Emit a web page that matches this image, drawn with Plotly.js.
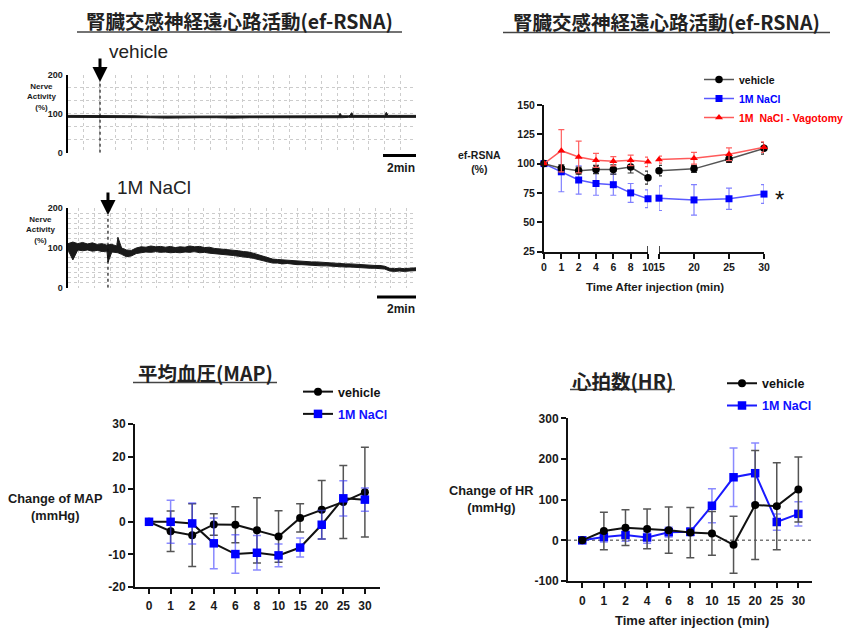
<!DOCTYPE html>
<html><head><meta charset="utf-8">
<script src="https://cdn.plot.ly/plotly-3.0.1.min.js"></script>
<style>html,body{margin:0;padding:0;background:#fff}#chart{width:857px;height:629px}</style>
</head><body><div id="chart"></div>
<script>
// ---------- raw nerve activity recordings (minutes, % of baseline) ----------
const vehTraceTime = [0,1,2,3,4,5,6,7,8,9,10,11,12,13,14,15,16,16.4,16.5,16.6,17,17.1,17.2,17.3,18,19,19.2,19.3,19.4,20,21.1];
const vehTraceHigh = [96,96,95,95,95,94,94,95,95,95,94,95,95,94,95,95,95,95,101,95,95,96,103,96,96,96,96,104,96,96,96];
const vehTraceLow  = [91,91,91,90,90,90,89,90,90,90,89,90,90,89,90,90,90,90,90,90,91,91,91,91,91,91,91,91,91,91,91];
const vehInjectTime = 1.94;

const naclTraceTime = [0,0.25,0.5,0.75,1,1.25,1.5,1.75,2,2.05,2.25,2.5,2.56,2.75,3,3.25,3.5,3.75,4,4.25,4.5,4.75,5,5.25,5.5,5.75,6,6.25,6.5,6.75,7,7.25,7.5,7.75,8,8.25,8.5,8.75,9,9.25,9.5,9.75,10,10.25,10.5,10.75,11,11.25,11.5,11.75,12,12.25,12.5,12.75,13,13.25,13.5,13.75,14,14.25,14.5,14.75,15,15.25,15.5,15.75,16,16.25,16.5,16.75,17,17.25,17.5,17.75,17.85];
const naclTraceHigh = [111,115,111,114,110,113,109,111,107,108,109,105,127,100,95,94,100,103,102,105,103,104,102,104,101,103,102,105,103,104,101,102,99,98,97,95,95,93,91,90,87,83,79,75,72,71,70,70,68,68,67,66,65,65,64,63,63,62,61,60,60,59,58,58,57,56,56,54,49,48,49,48,49,50,50];
const naclTraceLow  = [95,70,95,93,95,92,94,91,92,64,90,89,88,84,78,80,86,88,90,89,91,89,90,88,89,88,90,89,91,88,89,87,86,84,84,82,81,79,78,76,74,71,68,65,62,62,60,61,59,58,58,57,57,56,55,55,54,54,53,52,52,51,51,50,49,49,48,47,42,41,42,41,42,43,43];
const naclInjectTime = 2.05;

// ---------- ef-RSNA (%) ----------
const efTimeEarly = ['0','1','2','4','6','8','10'];
const efTimeLate = [15,20,25,30];
const efVehicle    = [100,96,94,95,95,97,88,94,95.5,104,113];
const efVehicleErr = [0,3,3,3.5,4,5,5.5,4.5,3,3,5];
const efNaCl       = [100,93,86,83,82,75,70,70.5,69,70,74];
const efNaClErr    = [0,17,12,10,9,8,7.5,10.5,13,9,8];
const efVago       = [100,111,105.6,102.8,102,102.8,101.5,103.4,104.5,108,114];
const efVagoErr    = [0,18,13.5,6,4,4.5,4,3,5,5.5,4.5];

// ---------- MAP change (mmHg) ----------
const timeCats = ['0','1','2','4','6','8','10','15','20','25','30'];
const mapVehicle    = [0,-2.9,-4.1,-0.8,-0.9,-2.6,-4.5,1.2,3.7,6.1,9.1];
const mapVehicleErr = [0,6.2,9.6,3.3,5.5,10,7.9,4.3,9,11.2,13.8];
const mapNaCl       = [0,0,-0.5,-6.6,-9.9,-9.5,-10.3,-7.9,-0.9,7.2,6.8];
const mapNaClErr    = [0,6.6,6.3,7.8,5.9,5.3,3.5,2.9,4.4,5.4,3.6];
const mapTickVals = [-20,-10,0,10,20,30];
const mapTickText = ['-20','-10','0','10','20','30'];

// ---------- HR change ----------
const hrVehicle    = [0,23,31,28,25,19,17,-11,87,84,125];
const hrVehicleErr = [0,46,44,49,57,62,54,70,134,107,80];
const hrNaCl       = [0,8,13,7,20,21,85,155,165,45,65];
const hrNaClErr    = [0,12,15,14,12,10,42,72,74,20,30];
const hrTickVals = [-100,0,100,200,300];
const hrTickText = ['-100','0','100','200','300'];

// ---------- layout helpers (pixel -> paper) ----------
const W = 857, H = 629;
const px = v => v / W;
const py = v => 1 - v / H;
const FONT = 'Liberation Sans, Arial, sans-serif';
const CJK = 'Noto Sans CJK JP, sans-serif';
const bold = (size, color) => ({family: FONT, size: size, color: color || '#1a1a1a', weight: 'bold'});

const traces = [];
// raw traces
traces.push({x: vehTraceTime, y: vehTraceLow, xaxis: 'x', yaxis: 'y', mode: 'lines', line: {color: '#1a1a1a', width: 1}, showlegend: false, hoverinfo: 'skip'});
traces.push({x: vehTraceTime, y: vehTraceHigh, xaxis: 'x', yaxis: 'y', mode: 'lines', fill: 'tonexty', fillcolor: '#1a1a1a', line: {color: '#1a1a1a', width: 1}, showlegend: false, hoverinfo: 'skip'});
traces.push({x: naclTraceTime, y: naclTraceLow, xaxis: 'x2', yaxis: 'y2', mode: 'lines', line: {color: '#1a1a1a', width: 1}, showlegend: false, hoverinfo: 'skip'});
traces.push({x: naclTraceTime, y: naclTraceHigh, xaxis: 'x2', yaxis: 'y2', mode: 'lines', fill: 'tonexty', fillcolor: '#1a1a1a', line: {color: '#1a1a1a', width: 1}, showlegend: false, hoverinfo: 'skip'});

// ef-RSNA series (broken axis: early categories on x3, late minutes on x4)
function efSeries(name, vals, errs, lineColor, markColor, sym, size, errColor, rank) {
  const common = {mode: 'lines+markers', yaxis: 'y3', cliponaxis: false, legend: 'legend', legendgroup: name,
    line: {color: lineColor, width: 1.5}, marker: {color: markColor, symbol: sym, size: size}};
  traces.push(Object.assign({}, common, {x: efTimeEarly, y: vals.slice(0, 7), xaxis: 'x3', name: name, legendrank: rank,
    error_y: {type: 'data', array: errs.slice(0, 7), color: errColor, thickness: 1.2, width: 3}}));
  traces.push(Object.assign({}, common, {x: efTimeLate, y: vals.slice(7), xaxis: 'x4', showlegend: false,
    error_y: {type: 'data', array: errs.slice(7), color: errColor, thickness: 1.2, width: 3}}));
}
efSeries('<span style="color:#0000ff">1M NaCl</span>', efNaCl, efNaClErr, '#5a5aff', '#0000ff', 'square', 7, '#8080ff', 2);
efSeries('vehicle', efVehicle, efVehicleErr, '#555555', '#000000', 'circle', 7.5, '#333333', 1);
efSeries('<span style="color:#ff0000">1M&#160;&#160;NaCl - Vagotomy</span>', efVago, efVagoErr, '#ff5a5a', '#ff0000', 'triangle-up', 7, '#ff6060', 3);

// MAP
traces.push({x: timeCats, y: mapVehicle, xaxis: 'x5', yaxis: 'y5', mode: 'lines+markers', name: 'vehicle', legend: 'legend2', legendgroup: 'mv', legendrank: 1, cliponaxis: false,
  line: {color: '#111', width: 2}, marker: {color: '#000', symbol: 'circle', size: 8},
  error_y: {type: 'data', array: mapVehicleErr, color: '#555', thickness: 1.5, width: 4}});
traces.push({x: timeCats, y: mapNaCl, xaxis: 'x5', yaxis: 'y5', mode: 'lines+markers', name: '<span style="color:#1010ff">1M NaCl</span>', legend: 'legend2', legendgroup: 'mn', legendrank: 2, cliponaxis: false,
  line: {color: '#111', width: 2}, marker: {color: '#0000ff', symbol: 'square', size: 8.5},
  error_y: {type: 'data', array: mapNaClErr, color: 'rgba(60,60,255,0.6)', thickness: 1.5, width: 4}});

// HR
traces.push({x: timeCats, y: hrNaCl, xaxis: 'x6', yaxis: 'y6', mode: 'lines+markers', name: '<span style="color:#1010ff">1M NaCl</span>', legend: 'legend3', legendgroup: 'hn', legendrank: 2, cliponaxis: false,
  line: {color: '#1a1aff', width: 2}, marker: {color: '#0000ff', symbol: 'square', size: 8.5},
  error_y: {type: 'data', array: hrNaClErr, color: 'rgba(60,60,255,0.6)', thickness: 1.5, width: 4}});
traces.push({x: timeCats, y: hrVehicle, xaxis: 'x6', yaxis: 'y6', mode: 'lines+markers', name: 'vehicle', legend: 'legend3', legendgroup: 'hv', legendrank: 1, cliponaxis: false,
  line: {color: '#111', width: 2}, marker: {color: '#000', symbol: 'circle', size: 8},
  error_y: {type: 'data', array: hrVehicleErr, color: '#555', thickness: 1.5, width: 4}});

const gridStyle = {showgrid: true, gridcolor: '#cccccc', griddash: 'dot', gridwidth: 1};
const axLine = {showline: true, linecolor: '#111', linewidth: 2, zeroline: false, showgrid: false,
  ticks: 'outside', ticklen: 5, tickwidth: 2, tickcolor: '#111'};

const layout = {
  width: W, height: H, margin: {l: 0, r: 0, t: 0, b: 0}, paper_bgcolor: '#fff', plot_bgcolor: 'rgba(0,0,0,0)',
  font: {family: FONT, color: '#1a1a1a'},
  showlegend: true,
  // raw trace 1
  xaxis: Object.assign({domain: [px(68), px(416)], range: [0, 21.1], anchor: 'y', showticklabels: false, ticks: '', zeroline: false, showline: false, dtick: 0.96, tick0: 0}, gridStyle),
  yaxis: Object.assign({domain: [py(152.7), py(75)], range: [0, 200], anchor: 'x', showline: true, linecolor: '#000', linewidth: 2.5, zeroline: false,
    tickmode: 'array', tickvals: [0, 100, 200], ticks: '', tickfont: bold(9), ticklabelstandoff: 1,
    minor: {dtick: 200 / 6, tick0: 0, showgrid: true, gridcolor: '#cccccc', griddash: 'dot', ticks: ''}}, gridStyle),
  // raw trace 2
  xaxis2: Object.assign({domain: [px(68), px(416)], range: [0, 17.85], anchor: 'y2', showticklabels: false, ticks: '', zeroline: false, showline: false, dtick: 0.8, tick0: 0.56}, gridStyle),
  yaxis2: Object.assign({domain: [py(287.7), py(208.3)], range: [0, 200], anchor: 'x2', showline: true, linecolor: '#000', linewidth: 2.5, zeroline: false,
    tickmode: 'array', tickvals: [0, 100, 200], ticks: '', tickfont: bold(9), ticklabelstandoff: 1,
    minor: {dtick: 12.5, tick0: 0, showgrid: true, gridcolor: '#cccccc', griddash: 'dot', ticks: ''}}, gridStyle),
  // ef-RSNA
  xaxis3: Object.assign({}, axLine, {domain: [px(544), px(648)], type: 'category', range: [0, 6], anchor: 'y3', tickfont: bold(10.5)}),
  xaxis4: Object.assign({}, axLine, {domain: [px(659), px(764)], range: [15, 30], anchor: 'y3', tickvals: efTimeLate, tickfont: bold(10.5)}),
  yaxis3: Object.assign({}, axLine, {domain: [py(251.5), py(105)], range: [25, 150], anchor: 'x3', dtick: 25, tickfont: bold(10.5)}),
  // MAP
  xaxis5: Object.assign({}, axLine, {domain: [px(135), px(380)], type: 'category', range: [-0.65, 10.7], anchor: 'y5', tickfont: bold(12), ticklabelstandoff: 2}),
  yaxis5: Object.assign({}, axLine, {domain: [py(587), py(424)], range: [-20, 30], anchor: 'x5', tickvals: mapTickVals, ticktext: mapTickText, tickfont: bold(12)}),
  // HR
  xaxis6: Object.assign({}, axLine, {domain: [px(568), px(812)], type: 'category', range: [-0.66, 10.63], anchor: 'y6', tickfont: bold(12), ticklabelstandoff: 3}),
  yaxis6: Object.assign({}, axLine, {domain: [py(581), py(418.3)], range: [-100, 300], anchor: 'x6', tickvals: hrTickVals, ticktext: hrTickText, tickfont: bold(12)}),
  legend: {x: px(699), y: py(65), xanchor: 'left', yanchor: 'top', bgcolor: 'rgba(0,0,0,0)', font: bold(10.5, '#111'), traceorder: 'normal', tracegroupgap: 0},
  legend2: {x: px(298), y: py(377), xanchor: 'left', yanchor: 'top', bgcolor: 'rgba(0,0,0,0)', font: bold(12.5, '#111'), tracegroupgap: 3},
  legend3: {x: px(722), y: py(368.5), xanchor: 'left', yanchor: 'top', bgcolor: 'rgba(0,0,0,0)', font: bold(12.5, '#111'), tracegroupgap: 3},
  shapes: [
    // injection markers
    {type: 'line', xref: 'x', yref: 'y', x0: vehInjectTime, x1: vehInjectTime, y0: 0, y1: 182, line: {color: '#111', width: 1.2, dash: 'dot'}},
    {type: 'line', xref: 'x2', yref: 'y2', x0: naclInjectTime, x1: naclInjectTime, y0: 0, y1: 183, line: {color: '#111', width: 1.2, dash: 'dot'}},
    // 2-min scale bars
    {type: 'line', xref: 'x', yref: 'paper', x0: 21.1 - 2, x1: 21.1, y0: py(155.5), y1: py(155.5), line: {color: '#000', width: 3}},
    {type: 'line', xref: 'x2', yref: 'paper', x0: 17.85 - 2, x1: 17.85, y0: py(297), y1: py(297), line: {color: '#000', width: 3}},
    // axis break caps
    {type: 'line', xref: 'x3', yref: 'paper', x0: 6, x1: 6, y0: py(246), y1: py(257), line: {color: '#111', width: 1.5}},
    {type: 'line', xref: 'x4', yref: 'paper', x0: 15, x1: 15, y0: py(246), y1: py(257), line: {color: '#111', width: 1.5}},
    // HR zero reference
    {type: 'line', xref: 'x6 domain', yref: 'y6', x0: 0, x1: 1, y0: 0, y1: 0, layer: 'below', line: {color: '#777', width: 1.5, dash: 'dot'}},
    // title underlines
    {type: 'line', xref: 'paper', yref: 'paper', x0: px(77), x1: px(402), y0: py(32), y1: py(32), line: {color: '#444', width: 1.5}},
    {type: 'line', xref: 'paper', yref: 'paper', x0: px(503), x1: px(830), y0: py(32.5), y1: py(32.5), line: {color: '#444', width: 1.5}},
    {type: 'line', xref: 'paper', yref: 'paper', x0: px(133), x1: px(277), y0: py(382.5), y1: py(382.5), line: {color: '#444', width: 1.5}},
    {type: 'line', xref: 'paper', yref: 'paper', x0: px(570), x1: px(675), y0: py(389.5), y1: py(389.5), line: {color: '#444', width: 1.5}}
  ],
  annotations: [
    {text: '腎臓交感神経遠心路活動(ef-RSNA)', xref: 'paper', yref: 'paper', x: px(239.5), y: py(21), xanchor: 'center', yanchor: 'middle', showarrow: false, font: {family: CJK, size: 19.5, weight: 'bold', color: '#222'}},
    {text: '腎臓交感神経遠心路活動(ef-RSNA)', xref: 'paper', yref: 'paper', x: px(666.5), y: py(21.5), xanchor: 'center', yanchor: 'middle', showarrow: false, font: {family: CJK, size: 19.5, weight: 'bold', color: '#222'}},
    {text: '平均血圧(MAP)', xref: 'paper', yref: 'paper', x: px(205), y: py(372.5), xanchor: 'center', yanchor: 'middle', showarrow: false, font: {family: CJK, size: 19.5, weight: 'bold', color: '#222'}},
    {text: '心拍数(HR)', xref: 'paper', yref: 'paper', x: px(622.5), y: py(380.5), xanchor: 'center', yanchor: 'middle', showarrow: false, font: {family: CJK, size: 19.5, weight: 'bold', color: '#222'}},
    // raw trace labels
    {text: 'vehicle', xref: 'paper', yref: 'paper', x: px(107), y: py(52), xanchor: 'left', yanchor: 'middle', showarrow: false, font: {family: FONT, size: 19, color: '#222'}},
    {text: '1M NaCl', xref: 'paper', yref: 'paper', x: px(115), y: py(188), xanchor: 'left', yanchor: 'middle', showarrow: false, font: {family: FONT, size: 19, color: '#222'}},
    {text: '', xref: 'x', yref: 'y', x: vehInjectTime, y: 182, ax: 0, ay: -25, showarrow: true, arrowhead: 2, arrowsize: 1, arrowwidth: 3, arrowcolor: '#000'},
    {text: '', xref: 'x2', yref: 'y2', x: naclInjectTime, y: 183, ax: 0, ay: -24, showarrow: true, arrowhead: 2, arrowsize: 1, arrowwidth: 3, arrowcolor: '#000'},
    {text: 'Nerve<br>Activity<br>(%)', xref: 'paper', yref: 'paper', x: px(41), y: py(97), xanchor: 'center', yanchor: 'middle', showarrow: false, font: bold(8)},
    {text: 'Nerve<br>Activity<br>(%)', xref: 'paper', yref: 'paper', x: px(40), y: py(230), xanchor: 'center', yanchor: 'middle', showarrow: false, font: bold(8)},
    {text: '2min', xref: 'paper', yref: 'paper', x: px(417), y: py(168), xanchor: 'right', yanchor: 'middle', showarrow: false, font: bold(12)},
    {text: '2min', xref: 'paper', yref: 'paper', x: px(417), y: py(309), xanchor: 'right', yanchor: 'middle', showarrow: false, font: bold(12)},
    // ef-RSNA axis titles
    {text: 'ef-RSNA<br>(%)', xref: 'paper', yref: 'paper', x: px(480), y: py(162), xanchor: 'center', yanchor: 'middle', showarrow: false, font: bold(10.5)},
    {text: 'Time After injection (min)', xref: 'paper', yref: 'paper', x: px(654.5), y: py(287), xanchor: 'center', yanchor: 'middle', showarrow: false, font: bold(11.5)},
    {text: '*', xref: 'x4', yref: 'y3', x: 30, y: 74, xshift: 15, yshift: -5, xanchor: 'center', yanchor: 'middle', showarrow: false, font: {family: FONT, size: 24, color: '#111'}},
    // MAP / HR axis titles
    {text: 'Change of MAP<br>(mmHg)', xref: 'paper', yref: 'paper', x: px(55), y: py(506.5), xanchor: 'center', yanchor: 'middle', showarrow: false, font: bold(12.8)},
    {text: 'Change of HR<br>(mmHg)', xref: 'paper', yref: 'paper', x: px(491), y: py(499), xanchor: 'center', yanchor: 'middle', showarrow: false, font: bold(12.8)},
    {text: 'Time after injection (min)', xref: 'paper', yref: 'paper', x: px(691.7), y: py(620), xanchor: 'center', yanchor: 'middle', showarrow: false, font: bold(13)}
  ]
};

Plotly.newPlot('chart', traces, layout, {staticPlot: true, displayModeBar: false});
</script>
</body></html>
